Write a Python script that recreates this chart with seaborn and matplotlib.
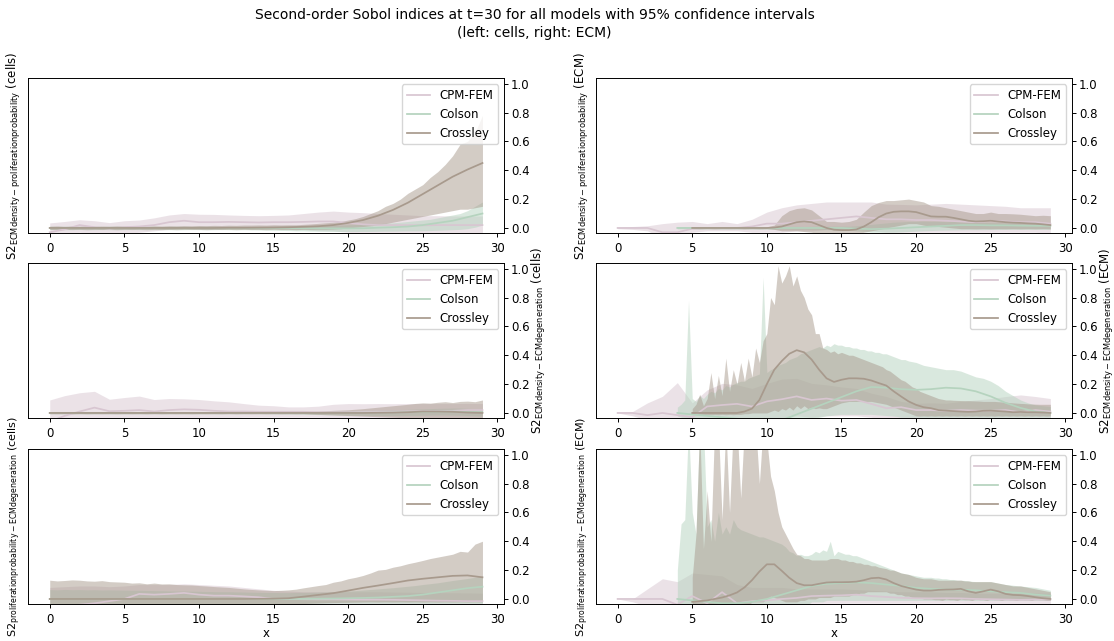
import numpy as np
import pandas as pd
import matplotlib
matplotlib.use("Agg")
import matplotlib.pyplot as plt
import seaborn as sns

# ---------------- categories / labels ----------------
models = ["CPM-FEM", "Colson", "Crossley"]
model_colors = ["#d8c6d1", "#b5d3be", "#a89a8d"]
pair_names = ["ECMdensity-proliferationprobability",
              "ECMdensity-ECMdegeneration",
              "proliferationprobability-ECMdegeneration"]
output_names = ["cells", "ECM"]
title_text = ("Second-order Sobol indices at t=30 for all models with 95% confidence intervals\n"
              "(left: cells, right: ECM)")

# ---------------- sampling grids (x values of the data) ----------------
x_int = np.arange(0, 30)                 # 0..29, step 1
x_int_4 = np.arange(4, 30)               # 4..29, step 1
x_half_0 = np.arange(0, 59) * 0.5        # 0..29, step 0.5
x_half_4 = 4 + np.arange(0, 51) * 0.5    # 4..29, step 0.5
x_half_5 = 5 + np.arange(0, 49) * 0.5    # 5..29, step 0.5
x_q_4 = 4 + np.arange(0, 101) * 0.25     # 4..29, step 0.25
x_q_5 = 5 + np.arange(0, 97) * 0.25      # 5..29, step 0.25

# ================= TOP LEFT: ECMdensity-proliferationprobability (cells) =================
tl_cpm_mean = [-0.03, -0.01, 0.02, 0.005, -0.005, 0.005, 0.01, 0.02, 0.04, 0.05,
               0.04, 0.04, 0.042, 0.04, 0.038, 0.04, 0.04, 0.042, 0.045, 0.045,
               0.035, 0.025, 0.02, 0.02, 0.02, 0.018, 0.02, 0.02, 0.02, 0.02]
tl_cpm_hi = [0.035, 0.045, 0.057, 0.05, 0.037, 0.05, 0.055, 0.07, 0.09, 0.1,
             0.095, 0.094, 0.09, 0.087, 0.085, 0.087, 0.09, 0.1, 0.11, 0.117,
             0.11, 0.106, 0.1, 0.095, 0.09, 0.085, 0.085, 0.083, 0.083, 0.083]
tl_cpm_lo = [-0.08, -0.06, -0.03, -0.04, -0.05, -0.04, -0.03, -0.02, -0.01, 0.0,
             -0.01, -0.01, -0.005, -0.005, -0.01, -0.005, -0.01, -0.01, -0.02, -0.02,
             -0.03, -0.04, -0.05, -0.05, -0.05, -0.05, -0.05, -0.05, -0.05, -0.05]
tl_col_mean = [0.0, 0.0, 0.0, 0.0, 0.0, 0.0, 0.0, 0.0, 0.0, 0.0,
               0.0, 0.0, 0.0, 0.0, 0.0, 0.0, 0.0, -0.002, -0.003, -0.003,
               -0.003, -0.002, 0.002, 0.005, 0.01, 0.02, 0.035, 0.05, 0.075, 0.1]
tl_col_hi = [0.012, 0.011, 0.012, 0.012, 0.011, 0.012, 0.012, 0.011, 0.012, 0.012,
             0.012, 0.011, 0.012, 0.012, 0.012, 0.011, 0.012, 0.012, 0.012, 0.011,
             0.012, 0.012, 0.012, 0.011, 0.012, 0.012, 0.012, 0.011, 0.012, 0.012,
             0.012, 0.012, 0.012, 0.012, 0.013, 0.014, 0.015, 0.017, 0.018, 0.02,
             0.022, 0.024, 0.026, 0.028, 0.03, 0.033, 0.036, 0.04, 0.045, 0.05,
             0.055, 0.06, 0.07, 0.08, 0.09, 0.1, 0.12, 0.15, 0.18]
tl_col_lo = [-0.012, -0.011, -0.012, -0.012, -0.011, -0.012, -0.012, -0.011, -0.012, -0.012,
             -0.012, -0.011, -0.012, -0.012, -0.012, -0.011, -0.012, -0.012, -0.012, -0.011,
             -0.012, -0.012, -0.012, -0.011, -0.012, -0.012, -0.012, -0.013, -0.014, -0.015,
             -0.016, -0.017, -0.018, -0.02, -0.02, -0.022, -0.022, -0.023, -0.024, -0.025,
             -0.025, -0.025, -0.024, -0.024, -0.023, -0.022, -0.022, -0.021, -0.02, -0.02,
             -0.019, -0.018, -0.016, -0.014, -0.012, -0.01, -0.005, 0.005, 0.02]
tl_cro_mean = [0.0, 0.0, 0.0, 0.0, 0.0, 0.0, 0.0, 0.0, 0.0, 0.0,
               0.0, 0.0, 0.001, 0.001, 0.002, 0.003, 0.005, 0.008, 0.012, 0.02,
               0.035, 0.055, 0.085, 0.125, 0.175, 0.235, 0.295, 0.355, 0.405, 0.45]
tl_cro_hi = [0.012, 0.014, 0.011, 0.013, 0.012, 0.015, 0.011, 0.013, 0.012, 0.014,
             0.012, 0.013, 0.015, 0.012, 0.014, 0.013, 0.015, 0.014, 0.016, 0.015,
             0.017, 0.016, 0.018, 0.017, 0.019, 0.018, 0.02, 0.02, 0.021, 0.02,
             0.022, 0.021, 0.022, 0.022, 0.025, 0.028, 0.032, 0.036, 0.04, 0.045,
             0.055, 0.065, 0.08, 0.1, 0.12, 0.15, 0.17, 0.2, 0.24, 0.27,
             0.3, 0.35, 0.39, 0.44, 0.5, 0.58, 0.6, 0.66, 0.78]
tl_cro_lo = [-0.01, -0.012, -0.01, -0.011, -0.01, -0.012, -0.01, -0.011, -0.01, -0.012,
             -0.01, -0.011, -0.01, -0.012, -0.01, -0.011, -0.01, -0.012, -0.01, -0.011,
             -0.01, -0.012, -0.01, -0.011, -0.01, -0.012, -0.01, -0.011, -0.01, -0.012,
             -0.01, -0.011, -0.01, -0.012, -0.01, -0.011, -0.01, -0.01, -0.008, -0.005,
             0.0, 0.005, 0.01, 0.015, 0.02, 0.03, 0.04, 0.05, 0.06, 0.07,
             0.08, 0.09, 0.1, 0.11, 0.12, 0.13, 0.13, 0.14, 0.15]

# ================= TOP RIGHT: ECMdensity-proliferationprobability (ECM) =================
tr_cpm_mean = [0.0, 0.0, 0.0, -0.03, -0.03, -0.005, 0.0, 0.0, 0.0, 0.01,
               0.03, 0.03, 0.04, 0.05, 0.06, 0.07, 0.08, 0.07, 0.06, 0.06,
               0.055, 0.055, 0.05, 0.045, 0.04, 0.05, 0.045, 0.04, 0.04, 0.03]
tr_cpm_hi = [0.005, 0.01, 0.015, 0.03, 0.04, 0.045, 0.03, 0.045, 0.03, 0.06,
             0.11, 0.14, 0.16, 0.17, 0.18, 0.18, 0.18, 0.18, 0.165, 0.163,
             0.16, 0.165, 0.17, 0.165, 0.16, 0.155, 0.15, 0.14, 0.14, 0.14]
tr_cpm_lo = [-0.005, -0.01, -0.02, -0.07, -0.06, -0.03, -0.02, -0.02, -0.02, -0.03,
             -0.03, -0.03, -0.02, -0.02, -0.01, -0.01, -0.01, -0.02, -0.03, -0.03,
             -0.03, -0.03, -0.03, -0.03, -0.03, -0.03, -0.03, -0.03, -0.03, -0.04]
tr_col_mean = [0.0, 0.0, 0.0, 0.0, 0.0, 0.0, 0.0, 0.0, 0.0, 0.0,
               0.0, 0.0, -0.005, -0.008, -0.005, 0.0, 0.005, 0.01, 0.015, 0.02,
               0.02, 0.018, 0.018, 0.016, 0.015, 0.015]
tr_col_hi = [0.006, 0.007, 0.006, 0.008, 0.007, 0.006, 0.008, 0.007, 0.008, 0.007,
             0.008, 0.009, 0.008, 0.01, 0.009, 0.01, 0.011, 0.01, 0.011, 0.012,
             0.011, 0.012, 0.012, 0.012, 0.015, 0.02, 0.025, 0.03, 0.035, 0.04,
             0.042, 0.045, 0.045, 0.047, 0.045, 0.046, 0.044, 0.045, 0.043, 0.04,
             0.04, 0.038, 0.037, 0.036, 0.036, 0.035, 0.035, 0.034, 0.035, 0.034,
             0.033]
tr_col_lo = [-0.006, -0.007, -0.006, -0.008, -0.007, -0.006, -0.008, -0.007, -0.008, -0.007,
             -0.008, -0.009, -0.008, -0.01, -0.009, -0.01, -0.011, -0.01, -0.011, -0.012,
             -0.012, -0.013, -0.014, -0.015, -0.02, -0.025, -0.03, -0.03, -0.03, -0.03,
             -0.028, -0.025, -0.022, -0.02, -0.018, -0.016, -0.015, -0.014, -0.013, -0.012,
             -0.012, -0.012, -0.011, -0.011, -0.01, -0.01, -0.01, -0.01, -0.01, -0.01,
             -0.01]
tr_cro_mean = [0.0, 0.0, 0.0, 0.0, 0.0, 0.0, 0.0, 0.0, 0.0, 0.0,
               0.0, 0.003, 0.01, 0.025, 0.04, 0.045, 0.04, 0.02, 0.0, -0.012,
               -0.015, -0.015, -0.01, 0.01, 0.04, 0.075, 0.1, 0.112, 0.115, 0.115,
               0.11, 0.095, 0.08, 0.078, 0.078, 0.07, 0.06, 0.05, 0.045, 0.047,
               0.05, 0.045, 0.04, 0.037, 0.035, 0.032, 0.03, 0.025, 0.02]
tr_cro_hi = [0.005, 0.007, 0.006, 0.008, 0.006, 0.007, 0.008, 0.006, 0.007, 0.008,
             0.008, 0.02, 0.085, 0.12, 0.135, 0.14, 0.125, 0.085, 0.045, 0.045,
             0.04, 0.045, 0.06, 0.11, 0.155, 0.177, 0.19, 0.19, 0.195, 0.2,
             0.19, 0.18, 0.155, 0.15, 0.14, 0.13, 0.12, 0.11, 0.1, 0.1,
             0.11, 0.1, 0.1, 0.098, 0.095, 0.09, 0.085, 0.088, 0.085]
tr_cro_lo = [-0.005, -0.006, -0.005, -0.007, -0.005, -0.006, -0.005, -0.007, -0.005, -0.006,
             -0.005, -0.01, -0.02, -0.02, -0.02, -0.025, -0.03, -0.04, -0.05, -0.05,
             -0.05, -0.045, -0.04, -0.03, -0.02, -0.01, 0.0, 0.01, 0.02, 0.03,
             0.03, 0.02, 0.01, 0.01, 0.005, 0.0, -0.005, -0.005, -0.006, -0.005,
             -0.006, -0.005, -0.006, -0.005, -0.006, -0.005, -0.006, -0.005, -0.006]

# ================= MIDDLE LEFT: ECMdensity-ECMdegeneration (cells) =================
ml_cpm_mean = [-0.06, -0.02, 0.01, 0.037, 0.012, 0.015, 0.02, 0.01, 0.02, 0.025,
               0.022, 0.015, 0.01, 0.01, 0.008, 0.008, 0.008, 0.008, 0.005, 0.005,
               0.005, 0.008, 0.01, 0.01, 0.012, 0.012, 0.015, 0.015, 0.02, 0.02]
ml_cpm_hi = [0.09, 0.12, 0.14, 0.15, 0.095, 0.107, 0.117, 0.093, 0.1, 0.098,
             0.093, 0.084, 0.077, 0.065, 0.054, 0.05, 0.042, 0.042, 0.047, 0.06,
             0.065, 0.064, 0.065, 0.064, 0.065, 0.065, 0.065, 0.065, 0.066, 0.065]
ml_cpm_lo = [-0.12, -0.08, -0.06, -0.05, -0.06, -0.06, -0.05, -0.06, -0.05, -0.05,
             -0.04, -0.04, -0.035, -0.03, -0.03, -0.03, -0.03, -0.03, -0.03, -0.035,
             -0.04, -0.04, -0.04, -0.04, -0.04, -0.04, -0.04, -0.04, -0.04, -0.04]
ml_col_mean = [0.0, 0.0, 0.0, 0.0, 0.0, 0.0, 0.0, 0.0, 0.0, 0.0,
               0.0, 0.0, 0.0, 0.0, 0.0, 0.0, 0.0, 0.0, 0.0, 0.001,
               0.001, 0.002, 0.002, 0.003, 0.005, 0.008, 0.01, 0.01, 0.006, 0.005]
ml_col_hi = [0.006, 0.005, 0.006, 0.006, 0.005, 0.006, 0.006, 0.005, 0.006, 0.006,
             0.006, 0.005, 0.006, 0.006, 0.005, 0.006, 0.006, 0.005, 0.006, 0.006,
             0.006, 0.005, 0.006, 0.006, 0.005, 0.006, 0.006, 0.005, 0.006, 0.006,
             0.007, 0.007, 0.008, 0.008, 0.009, 0.01, 0.011, 0.012, 0.013, 0.014,
             0.015, 0.016, 0.017, 0.018, 0.02, 0.021, 0.022, 0.024, 0.025, 0.027,
             0.028, 0.03, 0.032, 0.033, 0.034, 0.034, 0.032, 0.03, 0.028]
ml_col_lo = [-0.006, -0.005, -0.006, -0.006, -0.005, -0.006, -0.006, -0.005, -0.006, -0.006,
             -0.006, -0.005, -0.006, -0.006, -0.005, -0.006, -0.006, -0.005, -0.006, -0.006,
             -0.006, -0.005, -0.006, -0.006, -0.005, -0.006, -0.006, -0.005, -0.006, -0.006,
             -0.007, -0.007, -0.008, -0.008, -0.009, -0.01, -0.011, -0.012, -0.013, -0.014,
             -0.015, -0.016, -0.016, -0.017, -0.017, -0.018, -0.018, -0.018, -0.017, -0.017,
             -0.016, -0.015, -0.014, -0.014, -0.015, -0.016, -0.018, -0.02, -0.022]
ml_cro_mean = [0.0, 0.0, 0.0, 0.0, 0.0, 0.0, 0.0, 0.0, 0.0, 0.0,
               0.0, 0.0, 0.0, 0.0, 0.0, 0.0, 0.0, 0.0, 0.0, 0.0,
               0.0, 0.0, 0.001, 0.002, 0.005, 0.01, 0.01, 0.008, 0.003, 0.0]
ml_cro_hi = [0.005, 0.006, 0.005, 0.006, 0.005, 0.006, 0.005, 0.006, 0.005, 0.006,
             0.005, 0.006, 0.005, 0.006, 0.005, 0.006, 0.005, 0.006, 0.005, 0.006,
             0.005, 0.006, 0.005, 0.006, 0.005, 0.006, 0.005, 0.006, 0.005, 0.006,
             0.006, 0.007, 0.007, 0.008, 0.008, 0.01, 0.012, 0.015, 0.018, 0.02,
             0.022, 0.026, 0.03, 0.035, 0.04, 0.045, 0.05, 0.055, 0.06, 0.066,
             0.07, 0.068, 0.074, 0.078, 0.072, 0.08, 0.082, 0.078, 0.09]
ml_cro_lo = [-0.005, -0.006, -0.005, -0.006, -0.005, -0.006, -0.005, -0.006, -0.005, -0.006,
             -0.005, -0.006, -0.005, -0.006, -0.005, -0.006, -0.005, -0.006, -0.005, -0.006,
             -0.005, -0.006, -0.005, -0.006, -0.005, -0.006, -0.005, -0.006, -0.005, -0.006,
             -0.005, -0.006, -0.005, -0.006, -0.005, -0.008, -0.01, -0.012, -0.014, -0.016,
             -0.018, -0.02, -0.022, -0.024, -0.026, -0.028, -0.03, -0.032, -0.034, -0.035,
             -0.036, -0.037, -0.038, -0.038, -0.039, -0.04, -0.04, -0.04, -0.04]

# ================= MIDDLE RIGHT: ECMdensity-ECMdegeneration (ECM) =================
mr_cpm_mean = [0.0, 0.0, -0.015, 0.0, -0.015, -0.03, 0.045, 0.055, 0.063, 0.045,
               0.08, 0.095, 0.115, 0.09, 0.1, 0.085, 0.09, 0.063, 0.033, 0.04,
               0.02, 0.02, 0.015, 0.02, 0.016, 0.015, 0.02, 0.005, 0.02, 0.01]
mr_cpm_hi = [0.0, 0.01, 0.07, 0.115, 0.21, 0.07, 0.16, 0.205, 0.195, 0.17,
             0.205, 0.235, 0.24, 0.205, 0.195, 0.18, 0.17, 0.137, 0.114, 0.08,
             0.067, 0.07, 0.067, 0.08, 0.09, 0.1, 0.114, 0.125, 0.114, 0.1]
mr_cpm_lo = [0.0, -0.02, -0.05, -0.07, -0.12, -0.15, -0.07, -0.06, -0.06, -0.08,
             -0.05, -0.04, -0.02, -0.03, -0.02, -0.02, -0.02, -0.03, -0.05, -0.04,
             -0.04, -0.04, -0.04, -0.04, -0.05, -0.06, -0.07, -0.09, -0.07, -0.06]
mr_col_mean = [0.0, -0.01, -0.02, -0.03, -0.04, -0.05, -0.05, -0.05, -0.01, 0.03,
               0.07, 0.11, 0.15, 0.18, 0.175, 0.165, 0.16, 0.165, 0.175, 0.17,
               0.15, 0.115, 0.07, 0.035, 0.01, 0.0]
mr_col_hi = [0.04, 0.06, 0.09, 0.78,
             0.1, 0.08, 0.12, 0.1,
             0.13, 0.15, 0.14, 0.17,
             0.16, 0.19, 0.18, 0.2,
             0.21, 0.22, 0.22, 0.24,
             0.25, 0.26, 0.27, 0.94,
             0.28, 0.3, 0.31, 0.33,
             0.34, 0.35, 0.37, 0.38,
             0.39, 0.41, 0.42, 0.43,
             0.44, 0.45, 0.46, 0.45,
             0.47, 0.46, 0.48, 0.47,
             0.47, 0.46, 0.46, 0.45,
             0.45, 0.44, 0.44, 0.43,
             0.43, 0.42, 0.42, 0.41,
             0.41, 0.4, 0.39, 0.38,
             0.37, 0.37, 0.36, 0.355,
             0.35, 0.34, 0.33, 0.325,
             0.32, 0.315, 0.31, 0.305,
             0.3, 0.3, 0.3, 0.295,
             0.29, 0.28, 0.27, 0.26,
             0.25, 0.245, 0.24, 0.23,
             0.22, 0.205, 0.19, 0.17,
             0.15, 0.135, 0.12, 0.105,
             0.09, 0.08, 0.07, 0.062,
             0.056, 0.053, 0.05, 0.047,
             0.045]
mr_col_lo = [-0.02, -0.03, -0.04, -0.05,
             -0.06, -0.07, -0.08, -0.08,
             -0.08, -0.085, -0.08, -0.085,
             -0.08, -0.085, -0.08, -0.085,
             -0.08, -0.085, -0.08, -0.085,
             -0.08, -0.085, -0.08, -0.085,
             -0.08, -0.085, -0.08, -0.085,
             -0.08, -0.075, -0.07, -0.065,
             -0.06, -0.055, -0.05, -0.045,
             -0.04, -0.035, -0.03, -0.025,
             -0.02, -0.018, -0.015, -0.012,
             -0.01, -0.01, -0.01, -0.01,
             -0.01, -0.01, -0.01, -0.01,
             -0.01, -0.012, -0.014, -0.016,
             -0.018, -0.02, -0.022, -0.025,
             -0.03, -0.03, -0.03, -0.03,
             -0.03, -0.03, -0.03, -0.03,
             -0.03, -0.03, -0.03, -0.03,
             -0.03, -0.03, -0.03, -0.03,
             -0.03, -0.03, -0.03, -0.03,
             -0.03, -0.03, -0.03, -0.03,
             -0.03, -0.03, -0.03, -0.03,
             -0.03, -0.03, -0.03, -0.03,
             -0.03, -0.03, -0.03, -0.03,
             -0.03, -0.03, -0.03, -0.03,
             -0.03]
mr_cro_mean = [0.0, 0.0, 0.0, 0.0, 0.0, 0.0, 0.0, 0.01, 0.03, 0.09,
               0.2, 0.3, 0.36, 0.41, 0.435, 0.42, 0.37, 0.3, 0.24, 0.215,
               0.23, 0.24, 0.24, 0.237, 0.225, 0.207, 0.19, 0.15, 0.114, 0.08,
               0.056, 0.04, 0.033, 0.02, 0.016, 0.013, 0.01, 0.008, 0.01, 0.015,
               0.016, 0.013, 0.01, 0.005, 0.007, 0.005, 0.005, 0.003, 0.0]
mr_cro_hi = [0.03, 0.06, 0.13, 0.05,
             0.1, 0.28, 0.1, 0.26,
             0.12, 0.38, 0.15, 0.3,
             0.2, 0.35, 0.22, 0.38,
             0.25, 0.45, 0.35, 0.5,
             0.55, 0.8, 0.75, 1.02,
             0.9, 0.95, 1.02, 0.88,
             0.95, 0.85, 0.8, 0.72,
             0.68, 0.55, 0.55, 0.45,
             0.44, 0.42, 0.43, 0.41,
             0.42, 0.41, 0.4, 0.4,
             0.39, 0.38, 0.37, 0.36,
             0.35, 0.34, 0.33, 0.32,
             0.3, 0.29, 0.27, 0.25,
             0.23, 0.22, 0.2, 0.18,
             0.17, 0.15, 0.14, 0.13,
             0.12, 0.11, 0.1, 0.095,
             0.09, 0.09, 0.088, 0.087,
             0.086, 0.085, 0.085, 0.084,
             0.083, 0.082, 0.08, 0.08,
             0.08, 0.08, 0.078, 0.076,
             0.075, 0.072, 0.07, 0.068,
             0.066, 0.065, 0.063, 0.062,
             0.061, 0.06, 0.06, 0.06,
             0.06]
mr_cro_lo = [-0.01, -0.012, -0.01, -0.012,
             -0.01, -0.012, -0.01, -0.012,
             -0.01, -0.012, -0.01, -0.012,
             -0.01, -0.01, -0.005, -0.005,
             0.0, 0.0, 0.0, 0.0,
             0.0, 0.01, 0.02, 0.01,
             0.03, 0.02, 0.04, 0.02,
             0.05, 0.03, 0.05, 0.03,
             0.04, 0.03, 0.035, 0.03,
             0.03, 0.04, 0.05, 0.06,
             0.07, 0.075, 0.08, 0.08,
             0.08, 0.08, 0.08, 0.08,
             0.08, 0.075, 0.07, 0.065,
             0.06, 0.05, 0.04, 0.03,
             0.02, 0.01, 0.0, -0.01,
             -0.02, -0.022, -0.02, -0.022,
             -0.02, -0.022, -0.02, -0.022,
             -0.02, -0.022, -0.02, -0.022,
             -0.02, -0.022, -0.02, -0.022,
             -0.02, -0.022, -0.02, -0.022,
             -0.02, -0.022, -0.02, -0.022,
             -0.02, -0.022, -0.02, -0.022,
             -0.02, -0.022, -0.02, -0.022,
             -0.02, -0.022, -0.02, -0.022,
             -0.02]

# ================= BOTTOM LEFT: proliferationprobability-ECMdegeneration (cells) =================
bl_cpm_mean = [-0.06, -0.05, -0.04, -0.03, -0.015, 0.0, 0.035, 0.03, 0.035, 0.042,
               0.03, 0.023, 0.023, 0.018, 0.012, 0.0, 0.0, -0.002, -0.003, -0.003,
               -0.004, -0.005, -0.005, -0.006, -0.008, -0.01, -0.012, -0.013, -0.015, -0.015]
bl_cpm_hi = [0.08, 0.085, 0.09, 0.09, 0.085, 0.09, 0.1, 0.1, 0.1, 0.105,
             0.1, 0.095, 0.09, 0.08, 0.07, 0.06, 0.055, 0.05, 0.05, 0.05,
             0.05, 0.05, 0.05, 0.048, 0.047, 0.045, 0.044, 0.043, 0.042, 0.04]
bl_cpm_lo = [-0.2, -0.18, -0.17, -0.15, -0.12, -0.1, -0.04, -0.04, -0.035, -0.03,
             -0.04, -0.05, -0.05, -0.05, -0.05, -0.06, -0.06, -0.06, -0.06, -0.06,
             -0.06, -0.07, -0.07, -0.07, -0.07, -0.07, -0.07, -0.07, -0.07, -0.07]
bl_col_mean = [0.0, 0.0, 0.0, 0.0, 0.0, 0.0, 0.0, 0.0, 0.0, 0.0,
               0.0, 0.0, 0.0, 0.0, 0.0, 0.0, 0.0, 0.001, 0.002, 0.003,
               0.005, 0.007, 0.01, 0.015, 0.02, 0.03, 0.045, 0.06, 0.075, 0.085]
bl_col_hi = [0.065, 0.063, 0.066, 0.064, 0.065, 0.063, 0.064, 0.062, 0.063, 0.062,
             0.061, 0.06, 0.06, 0.059, 0.058, 0.057, 0.056, 0.055, 0.055, 0.054,
             0.053, 0.052, 0.051, 0.05, 0.05, 0.049, 0.048, 0.047, 0.046,
             0.045, 0.045, 0.044, 0.044, 0.045, 0.045, 0.046, 0.047, 0.048, 0.05,
             0.052, 0.055, 0.058, 0.062, 0.066, 0.07, 0.074, 0.078, 0.083, 0.088,
             0.093, 0.1, 0.106, 0.112, 0.12, 0.128, 0.135, 0.142, 0.15, 0.16]
bl_col_lo = [-0.06, -0.062, -0.06, -0.061, -0.06, -0.058, -0.057, -0.056, -0.055, -0.054,
             -0.053, -0.052, -0.05, -0.05, -0.048, -0.047, -0.046, -0.045, -0.044, -0.043,
             -0.042, -0.041, -0.04, -0.04, -0.039, -0.038, -0.037, -0.036, -0.035, -0.035,
             -0.034, -0.034, -0.033, -0.033, -0.032, -0.032, -0.031, -0.031, -0.03, -0.03,
             -0.03, -0.031, -0.03, -0.031, -0.03, -0.031, -0.03, -0.031, -0.03, -0.031,
             -0.03, -0.031, -0.03, -0.031, -0.03, -0.031, -0.03, -0.031, -0.03]
bl_cro_mean = [0.0, 0.0, 0.0, 0.0, 0.0, 0.0, 0.0, 0.0, 0.0, 0.0,
               0.0, 0.0, 0.0, 0.0, 0.001, 0.002, 0.005, 0.016, 0.028, 0.04,
               0.058, 0.077, 0.093, 0.11, 0.128, 0.14, 0.15, 0.16, 0.163, 0.15]
bl_cro_hi = [0.13, 0.125, 0.128, 0.132, 0.13, 0.125, 0.123, 0.127, 0.12, 0.118,
             0.116, 0.11, 0.112, 0.105, 0.11, 0.104, 0.105, 0.1, 0.098, 0.097,
             0.093, 0.09, 0.086, 0.083, 0.08, 0.075, 0.07, 0.066, 0.063, 0.06,
             0.058, 0.06, 0.063, 0.068, 0.077, 0.085, 0.093, 0.1, 0.116, 0.125,
             0.14, 0.15, 0.163, 0.18, 0.2, 0.205, 0.22, 0.23, 0.244, 0.255,
             0.267, 0.28, 0.29, 0.3, 0.31, 0.33, 0.325, 0.38, 0.4]
bl_cro_lo = [-0.04, -0.042, -0.04, -0.041, -0.04, -0.042, -0.04, -0.041, -0.04, -0.042,
             -0.04, -0.041, -0.04, -0.042, -0.04, -0.041, -0.04, -0.042, -0.04, -0.041,
             -0.04, -0.041, -0.04, -0.042, -0.04, -0.041, -0.04, -0.042, -0.04, -0.041,
             -0.04, -0.038, -0.036, -0.034, -0.032, -0.03, -0.028, -0.026, -0.025, -0.024,
             -0.023, -0.022, -0.021, -0.02, -0.021, -0.02, -0.021, -0.02, -0.021, -0.02,
             -0.021, -0.02, -0.021, -0.02, -0.021, -0.02, -0.021, -0.02, -0.021]

# ================= BOTTOM RIGHT: proliferationprobability-ECMdegeneration (ECM) =================
br_cpm_mean = [0.0, 0.0, 0.0, 0.0, -0.04, 0.02, -0.03, 0.047, -0.03, -0.015,
               -0.01, 0.0, 0.007, 0.02, 0.023, 0.025, 0.03, 0.02, 0.014, 0.008,
               0.005, 0.004, 0.005, 0.004, 0.0, -0.002, -0.004, -0.006, -0.004, -0.004]
br_cpm_hi = [0.0, 0.0, 0.07, 0.14, 0.12, 0.18, 0.17, 0.16, 0.1, 0.08,
             0.08, 0.08, 0.07, 0.07, 0.07, 0.07, 0.065, 0.06, 0.055, 0.05,
             0.05, 0.05, 0.045, 0.045, 0.04, 0.04, 0.04, 0.04, 0.04, 0.04]
br_cpm_lo = [0.0, -0.02, -0.05, -0.06, -0.08, -0.06, -0.08, -0.05, -0.08, -0.06,
             -0.05, -0.04, -0.04, -0.03, -0.03, -0.03, -0.03, -0.03, -0.03, -0.03,
             -0.03, -0.03, -0.03, -0.03, -0.035, -0.04, -0.04, -0.045, -0.045, -0.045]
br_col_mean = [0.0, -0.01, -0.02, -0.03, -0.03, -0.02, 0.0, 0.03, 0.06, 0.09,
               0.105, 0.11, 0.115, 0.11, 0.1, 0.09, 0.077, 0.07, 0.065, 0.065,
               0.06, 0.053, 0.047, 0.042, 0.03, 0.023]
br_col_hi = [0.2, 0.52, 0.55, 1.2,
             0.6, 0.45, 1.2, 1.2,
             0.5, 0.55, 0.4, 0.6,
             0.45, 0.5, 0.45, 0.55,
             0.5, 0.48, 0.47, 0.46,
             0.45, 0.44, 0.43, 0.43,
             0.42, 0.41, 0.4, 0.39,
             0.38, 0.36, 0.33, 0.32,
             0.3, 0.31, 0.3, 0.3,
             0.31, 0.33, 0.32, 0.34,
             0.33, 0.4, 0.3, 0.33,
             0.32, 0.31, 0.31, 0.3,
             0.3, 0.29, 0.28, 0.27,
             0.26, 0.25, 0.24, 0.23,
             0.22, 0.21, 0.2, 0.19,
             0.18, 0.175, 0.17, 0.165,
             0.16, 0.155, 0.15, 0.15,
             0.15, 0.145, 0.145, 0.14,
             0.14, 0.135, 0.135, 0.13,
             0.13, 0.128, 0.125, 0.122,
             0.12, 0.12, 0.12, 0.12,
             0.12, 0.115, 0.11, 0.105,
             0.1, 0.098, 0.095, 0.092,
             0.09, 0.087, 0.085, 0.082,
             0.08, 0.075, 0.07, 0.065,
             0.06]
br_col_lo = [-0.1, -0.11, -0.1, -0.11,
             -0.1, -0.11, -0.1, -0.11,
             -0.1, -0.11, -0.1, -0.11,
             -0.1, -0.11, -0.1, -0.11,
             -0.1, -0.11, -0.1, -0.11,
             -0.1, -0.11, -0.1, -0.11,
             -0.05, -0.05, -0.05, -0.05,
             -0.05, -0.05, -0.05, -0.05,
             -0.04, -0.04, -0.04, -0.04,
             -0.02, -0.02, -0.02, -0.02,
             -0.01, -0.01, -0.01, -0.01,
             -0.01, -0.01, -0.01, -0.01,
             -0.01, -0.01, -0.01, -0.01,
             -0.01, -0.01, -0.01, -0.01,
             -0.01, -0.01, -0.01, -0.01,
             -0.01, -0.01, -0.01, -0.01,
             -0.01, -0.01, -0.01, -0.01,
             -0.01, -0.01, -0.01, -0.01,
             -0.01, -0.01, -0.01, -0.01,
             -0.01, -0.01, -0.01, -0.01,
             -0.01, -0.01, -0.01, -0.01,
             -0.01, -0.01, -0.01, -0.01,
             -0.01, -0.01, -0.01, -0.01,
             -0.01, -0.01, -0.01, -0.01,
             -0.01, -0.01, -0.01, -0.01,
             -0.01]
br_cro_mean = [-0.02, -0.015, -0.01, 0.0, 0.01, 0.025, 0.045, 0.08, 0.13, 0.19,
               0.24, 0.24, 0.195, 0.147, 0.11, 0.095, 0.095, 0.105, 0.114, 0.116,
               0.116, 0.117, 0.12, 0.13, 0.144, 0.147, 0.135, 0.11, 0.09, 0.077,
               0.065, 0.058, 0.058, 0.063, 0.065, 0.066, 0.07, 0.053, 0.042, 0.053,
               0.065, 0.053, 0.035, 0.028, 0.026, 0.02, 0.012, 0.005, 0.0]
br_cro_hi = [0.15, 0.45, 1.2, 0.35,
             0.75, 0.4, 1.2, 1.2,
             0.55, 1.2, 0.6, 1.2,
             1.2, 0.7, 1.2, 1.2,
             1.2, 1.2, 0.8, 1.2,
             1.1, 0.85, 0.75, 0.6,
             0.5, 0.45, 0.4, 0.35,
             0.31, 0.3, 0.28, 0.28,
             0.27, 0.27, 0.27, 0.27,
             0.27, 0.28, 0.28, 0.28,
             0.27, 0.27, 0.26, 0.26,
             0.25, 0.25, 0.24, 0.24,
             0.23, 0.23, 0.22, 0.215,
             0.21, 0.2, 0.2, 0.19,
             0.18, 0.175, 0.17, 0.16,
             0.15, 0.145, 0.14, 0.14,
             0.14, 0.135, 0.13, 0.13,
             0.13, 0.13, 0.13, 0.13,
             0.13, 0.125, 0.125, 0.12,
             0.12, 0.12, 0.12, 0.12,
             0.12, 0.115, 0.11, 0.105,
             0.1, 0.095, 0.09, 0.09,
             0.09, 0.085, 0.08, 0.075,
             0.07, 0.065, 0.06, 0.055,
             0.05]
br_cro_lo = [-0.05, -0.05, -0.05, -0.05,
             -0.05, -0.05, -0.05, -0.05,
             -0.05, -0.05, -0.05, -0.05,
             -0.05, -0.05, -0.05, -0.05,
             -0.02, -0.02, -0.02, -0.02,
             0.0, 0.02, 0.01, 0.0,
             -0.01, -0.02, -0.02, -0.02,
             -0.02, -0.01, -0.01, 0.0,
             0.0, 0.0, 0.01, 0.01,
             0.01, 0.01, 0.02, 0.02,
             0.02, 0.02, 0.02, 0.03,
             0.03, 0.04, 0.04, 0.05,
             0.05, 0.05, 0.05, 0.05,
             0.05, 0.04, 0.04, 0.03,
             0.03, 0.02, 0.02, 0.01,
             0.01, 0.01, 0.0, 0.0,
             0.0, -0.005, -0.005, -0.01,
             0.0, -0.005, -0.005, -0.01,
             0.0, -0.005, -0.005, -0.01,
             0.0, -0.005, -0.005, -0.01,
             0.0, -0.005, -0.005, -0.01,
             0.0, -0.005, -0.005, -0.01,
             0.0, -0.005, -0.005, -0.01,
             0.0, -0.005, -0.005, -0.01,
             -0.01]

# ---------------- assemble panels (row, col) ----------------
panels = {
    (0, 0): [(x_int, tl_cpm_mean, x_int, tl_cpm_lo, tl_cpm_hi),
             (x_int, tl_col_mean, x_half_0, tl_col_lo, tl_col_hi),
             (x_int, tl_cro_mean, x_half_0, tl_cro_lo, tl_cro_hi)],
    (0, 1): [(x_int, tr_cpm_mean, x_int, tr_cpm_lo, tr_cpm_hi),
             (x_int_4, tr_col_mean, x_half_4, tr_col_lo, tr_col_hi),
             (x_half_5, tr_cro_mean, x_half_5, tr_cro_lo, tr_cro_hi)],
    (1, 0): [(x_int, ml_cpm_mean, x_int, ml_cpm_lo, ml_cpm_hi),
             (x_int, ml_col_mean, x_half_0, ml_col_lo, ml_col_hi),
             (x_int, ml_cro_mean, x_half_0, ml_cro_lo, ml_cro_hi)],
    (1, 1): [(x_int, mr_cpm_mean, x_int, mr_cpm_lo, mr_cpm_hi),
             (x_int_4, mr_col_mean, x_q_4, mr_col_lo, mr_col_hi),
             (x_half_5, mr_cro_mean, x_q_5, mr_cro_lo, mr_cro_hi)],
    (2, 0): [(x_int, bl_cpm_mean, x_int, bl_cpm_lo, bl_cpm_hi),
             (x_int, bl_col_mean, x_half_0, bl_col_lo, bl_col_hi),
             (x_int, bl_cro_mean, x_half_0, bl_cro_lo, bl_cro_hi)],
    (2, 1): [(x_int, br_cpm_mean, x_int, br_cpm_lo, br_cpm_hi),
             (x_int_4, br_col_mean, x_q_4, br_col_lo, br_col_hi),
             (x_half_5, br_cro_mean, x_q_5, br_cro_lo, br_cro_hi)],
}

# ---------------- figure ----------------
FS = 8.5
plt.rcParams["font.family"] = ["DejaVu Sans"]
plt.rcParams["font.size"] = FS
plt.rcParams["axes.linewidth"] = 0.7
for k in ("xtick", "ytick"):
    plt.rcParams[k + ".major.size"] = 3.0
    plt.rcParams[k + ".major.width"] = 0.7
    plt.rcParams[k + ".labelsize"] = FS
plt.rcParams["xtick.major.pad"] = 3.0
plt.rcParams["ytick.major.pad"] = 2.0

W, H = 1114, 641
fig = plt.figure(figsize=(W / 100, H / 100), dpi=100)
col_left = [28.1 / W, 596.0 / W]
ax_w = 476.0 / W
row_bottom = [(H - 233.3) / H, (H - 418.3) / H, (H - 604.3) / H]
ax_h = 155.0 / H

for (r, c), series in panels.items():
    ax = fig.add_axes([col_left[c], row_bottom[r], ax_w, ax_h])
    for name, color, (xm, ym, xc, lo, hi) in zip(models, model_colors, series):
        ax.fill_between(xc, lo, hi, color=color, alpha=0.5, linewidth=0)
        sns.lineplot(x=xm, y=ym, ax=ax, color=color, label=name, linewidth=1.25)
    ax.set_xlim(-1.45, 30.45)
    ax.set_ylim(-0.037, 1.037)
    ax.set_yticks([0.0, 0.2, 0.4, 0.6, 0.8, 1.0])
    ax.set_xticks([0, 5, 10, 15, 20, 25, 30])
    ax.yaxis.tick_right()
    label = (r"$\mathrm{S2}_{\mathrm{" + pair_names[r] + r"}}$ (" + output_names[c] + ")")
    if r == 1:
        ax.set_ylabel(label, fontsize=FS, labelpad=0.0)
        ax.yaxis.set_label_position("right")
    elif r == 2:
        ax.set_ylabel(label, fontsize=8.0, labelpad=3.4)
        ax.yaxis.set_label_position("left")
    else:
        ax.set_ylabel(label, fontsize=FS, labelpad=3.4)
        ax.yaxis.set_label_position("left")
    if r == 2:
        ax.set_xlabel("x", fontsize=FS, labelpad=1.0)
    else:
        ax.set_xlabel("")
    ax.legend(loc="upper right", fontsize=FS)

fig.suptitle(title_text, x=0.48, y=0.987, fontsize=10, va="top", linespacing=1.3)
fig.savefig("out.png", dpi=100)
